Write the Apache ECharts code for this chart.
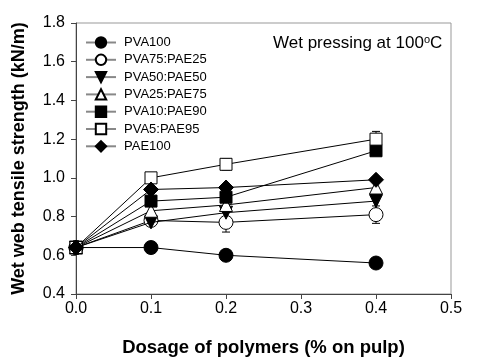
<!DOCTYPE html>
<html><head><meta charset="utf-8">
<script src="https://cdn.jsdelivr.net/npm/echarts@6/dist/echarts.min.js"></script>
<style>html,body{margin:0;padding:0;background:#fff}#c{width:478px;height:363px}</style>
</head><body><div id="c"></div>
<script>
var dosage = [0, 0.1, 0.2, 0.4];
var seriesNames = ['PVA100','PVA75:PAE25','PVA50:PAE50','PVA25:PAE75','PVA10:PAE90','PVA5:PAE95','PAE100'];
var PVA100 = [0.64, 0.64, 0.60, 0.56];
var PVA75_PAE25 = [0.64, 0.78, 0.77, 0.81];
var PVA50_PAE50 = [0.64, 0.77, 0.82, 0.88];
var PVA25_PAE75 = [0.64, 0.83, 0.86, 0.95];
var PVA10_PAE90 = [0.64, 0.88, 0.90, 1.14];
var PVA5_PAE95 = [0.64, 1.00, 1.07, 1.20];
var PAE100 = [0.64, 0.94, 0.95, 0.99];
var errPVA75_PAE25 = [0.01, 0.01, 0.05, 0.045];
var errPVA10_PAE90 = [0.01, 0.01, 0.01, 0.02];
var errPVA5_PAE95 = [0.01, 0.02, 0.03, 0.04];
var xTicks = [0, 0.1, 0.2, 0.3, 0.4, 0.5];
var yTicks = [0.4, 0.6, 0.8, 1.0, 1.2, 1.4, 1.6, 1.8];

var allValues = [PVA100, PVA75_PAE25, PVA50_PAE50, PVA25_PAE75, PVA10_PAE90, PVA5_PAE95, PAE100];
var symbols = ['circle','circle','triangle','triangle','rect','rect','diamond'];
var rotates = [0,0,180,0,0,0,0];
var fills = ['#000','#fff','#000','#fff','#000','#fff','#000'];
var sizes = [14,14,13,13,12,12,15];

function pairs(v){ return dosage.map(function(d,i){ return [d, v[i]]; }); }

var errSets = [[PVA75_PAE25, errPVA75_PAE25],[PVA10_PAE90, errPVA10_PAE90],[PVA5_PAE95, errPVA5_PAE95]];
var errData = [];
errSets.forEach(function(s){ dosage.forEach(function(d,i){ if(d>0) errData.push([d, s[0][i]-s[1][i], s[0][i]+s[1][i]]); }); });

var series = [{
  type:'custom', data: errData, z: 1, silent:true,
  renderItem: function(params, api){
    var lo = api.coord([api.value(0), api.value(1)]);
    var hi = api.coord([api.value(0), api.value(2)]);
    var w = 4;
    var st = {stroke:'#000', lineWidth:1};
    return {type:'group', children:[
      {type:'line', shape:{x1:lo[0],y1:lo[1],x2:hi[0],y2:hi[1]}, style:st},
      {type:'line', shape:{x1:lo[0]-w,y1:lo[1],x2:lo[0]+w,y2:lo[1]}, style:st},
      {type:'line', shape:{x1:hi[0]-w,y1:hi[1],x2:hi[0]+w,y2:hi[1]}, style:st}
    ]};
  }
}];
seriesNames.forEach(function(n,k){
  series.push({
    name:n, type:'line', data:pairs(allValues[k]), symbol:symbols[k], symbolRotate:rotates[k],
    symbolSize:sizes[k], showAllSymbol:true, z: 3 + k,
    lineStyle:{color:'#000', width:1},
    itemStyle:{color:fills[k], borderColor:'#000', borderWidth:1, opacity:1},
    emphasis:{disabled:true}, animation:false
  });
});

var chart = echarts.init(document.getElementById('c'), null, {renderer:'canvas'});
chart.setOption({
  animation:false,
  grid:{left:76, right:27, top:23, bottom:69, outerBoundsMode:'none', containLabel:false, show:true, borderColor:'#999', borderWidth:1, backgroundColor:'transparent'},
  legend:{
    data: seriesNames,
    orient:'vertical', left:85, top:36, itemWidth:30, itemHeight:13, itemGap:4.3, padding:0,
    lineStyle:{color:'#888', width:2},
    textStyle:{fontFamily:'Liberation Sans, Arial', fontSize:13, color:'#000', padding:[0,0,0,3]},
    inactiveColor:'#000', selectedMode:false
  },
  xAxis:{
    type:'value', min:0, max:0.5, interval:0.1,
    name:'Dosage of polymers (% on pulp)', nameLocation:'middle', nameGap:44,
    nameTextStyle:{fontFamily:'Liberation Sans, Arial', fontWeight:'bold', fontSize:18.5, color:'#000'},
    axisLine:{lineStyle:{color:'#444', width:1}},
    axisTick:{show:true, inside:false, length:5, lineStyle:{color:'#444'}},
    axisLabel:{margin:7, fontFamily:'Liberation Sans, Arial', fontSize:16, color:'#000', formatter:function(v){return v.toFixed(1);}},
    splitLine:{show:false}
  },
  yAxis:{
    type:'value', min:0.4, max:1.8, interval:0.2,
    name:'Wet web tensile strength (kN/m)', nameLocation:'middle', nameGap:48,
    nameTextStyle:{fontFamily:'Liberation Sans, Arial', fontWeight:'bold', fontSize:18, color:'#000'},
    axisLine:{show:true, lineStyle:{color:'#444', width:1}},
    axisTick:{show:true, inside:false, length:5, lineStyle:{color:'#444'}},
    axisLabel:{margin:11, fontFamily:'Liberation Sans, Arial', fontSize:16, color:'#000', formatter:function(v){return v.toFixed(1);}},
    splitLine:{show:false}
  },
  graphic:[{
    type:'text', left:273, top:34,
    style:{
      text:'Wet pressing at 100{sup|o}C',
      font:'17px "Liberation Sans", Arial', fill:'#000',
      rich:{sup:{fontSize:11, fontFamily:'Liberation Sans', verticalAlign:'top', padding:[0,0,7,0]}}
    }
  }],
  series: series
});
</script></body></html>
